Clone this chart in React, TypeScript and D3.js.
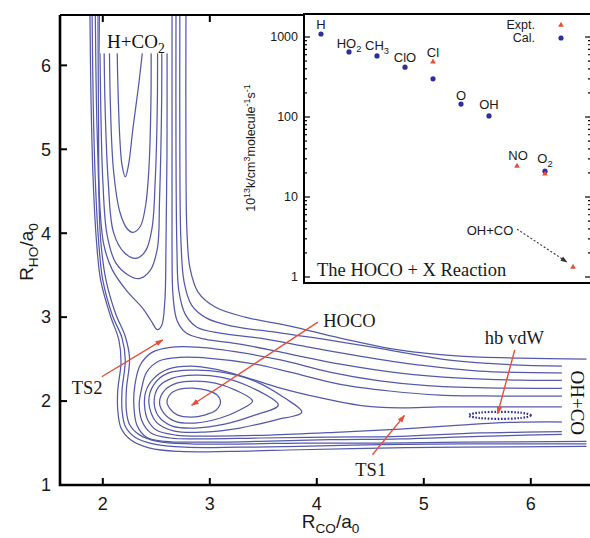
import React, { useEffect, useRef } from "react";
import * as d3 from "d3";

type Pt = [number, number];

// contours of the HOCO surface, traced as [R_CO, R_HO] in bohr
// H + CO2 valley: levels that stay open at the top
const entranceLines: Pt[][] = [
  [[2.13, 6.6], [2.14, 5.82], [2.16, 5.11], [2.18, 4.81], [2.21, 4.67], [2.24, 4.81], [2.28, 5.23], [2.34, 5.82], [2.38, 6.3], [2.39, 6.6]],
  [[2.06, 6.6], [2.07, 5.58], [2.1, 4.75], [2.16, 4.25], [2.23, 4.05], [2.28, 4.01], [2.35, 4.08], [2.4, 4.33], [2.43, 4.75], [2.45, 5.58], [2.45, 6.6]],
  [[2.01, 6.6], [2.02, 5.58], [2.05, 4.63], [2.1, 4.01], [2.2, 3.77], [2.31, 3.7], [2.4, 3.79], [2.46, 4.06], [2.49, 4.63], [2.51, 5.58], [2.51, 6.6]],
  [[1.97, 6.6], [1.98, 5.58], [2.0, 4.63], [2.04, 3.98], [2.12, 3.65], [2.24, 3.5], [2.34, 3.46], [2.44, 3.55], [2.51, 3.82], [2.53, 4.39], [2.55, 5.58], [2.55, 6.6]],
  [[1.955, 6.6], [1.96, 5.35], [1.97, 4.39], [2.01, 3.86], [2.09, 3.56], [2.22, 3.32], [2.37, 3.11], [2.45, 2.96], [2.51, 2.85], [2.55, 2.9], [2.58, 3.2], [2.59, 3.8], [2.6, 4.99], [2.6, 6.6]],
];

// repulsive wall: from the top, round the well, out along OH + CO
const wallLines: Pt[][] = [
  [[1.88, 6.6], [1.89, 5.58], [1.91, 4.63], [1.94, 3.92], [1.98, 3.44], [2.07, 3.02], [2.15, 2.73], [2.17, 2.46], [2.14, 2.13], [2.14, 1.89], [2.17, 1.68], [2.26, 1.54], [2.44, 1.44], [2.72, 1.4], [3.19, 1.4], [3.84, 1.42], [4.59, 1.44], [5.34, 1.45], [6.52, 1.46]],
  [[1.9, 6.6], [1.91, 5.58], [1.93, 4.63], [1.96, 3.92], [2.0, 3.44], [2.09, 3.02], [2.18, 2.75], [2.21, 2.49], [2.18, 2.13], [2.18, 1.89], [2.21, 1.7], [2.3, 1.57], [2.47, 1.49], [2.77, 1.45], [3.28, 1.45], [3.84, 1.46], [4.59, 1.48], [5.34, 1.49], [6.52, 1.49]],
  [[1.93, 6.6], [1.94, 5.58], [1.96, 4.63], [1.98, 3.92], [2.03, 3.44], [2.12, 3.04], [2.21, 2.77], [2.25, 2.51], [2.22, 2.13], [2.22, 1.89], [2.25, 1.72], [2.34, 1.6], [2.51, 1.52], [2.82, 1.49], [3.38, 1.49], [3.84, 1.5], [4.59, 1.5], [5.34, 1.51], [6.52, 1.52]],
];

// upper wall: down the H + CO2 valley, round the corner, out along OH + CO
const upperLines: Pt[][] = [
  [[2.777, 6.6], [2.777, 4.99], [2.786, 4.036], [2.815, 3.583], [2.89, 3.298], [3.05, 3.12], [3.33, 3.0], [3.75, 2.893], [4.22, 2.75], [4.78, 2.607], [5.34, 2.536], [5.9, 2.512], [6.52, 2.5]],
  [[2.72, 6.6], [2.72, 4.99], [2.73, 3.917], [2.76, 3.417], [2.83, 3.143], [2.97, 2.988], [3.21, 2.893], [3.61, 2.821], [4.12, 2.726], [4.68, 2.607], [5.24, 2.488], [5.9, 2.429], [6.52, 2.417]],
  [[2.684, 6.6], [2.684, 4.99], [2.693, 3.8], [2.71, 3.321], [2.77, 3.036], [2.88, 2.88], [3.095, 2.81], [3.47, 2.75], [3.94, 2.64], [4.4, 2.536], [4.96, 2.429], [5.52, 2.357], [6.52, 2.333]],
  [[2.647, 6.6], [2.647, 4.99], [2.647, 3.8], [2.656, 3.262], [2.693, 2.964], [2.78, 2.81], [2.955, 2.738], [3.28, 2.679], [3.75, 2.56], [4.22, 2.44], [4.78, 2.333], [5.34, 2.274], [5.9, 2.25], [6.52, 2.25]],
];

// levels above TS1: wrap the HOCO well and open toward OH + CO
const exitLines: Pt[][] = [
  [[6.52, 2.155], [5.71, 2.155], [5.06, 2.18], [4.59, 2.24], [4.12, 2.345], [3.66, 2.49], [3.28, 2.58], [2.91, 2.64], [2.63, 2.64], [2.46, 2.58], [2.35, 2.43], [2.3, 2.19], [2.29, 1.95], [2.32, 1.71], [2.41, 1.57], [2.58, 1.52], [2.91, 1.51], [3.47, 1.52], [4.12, 1.54], [4.78, 1.55], [5.52, 1.58], [6.52, 1.61]],
  [[6.52, 2.06], [5.71, 2.06], [5.15, 2.07], [4.68, 2.12], [4.22, 2.2], [3.75, 2.345], [3.38, 2.45], [3.0, 2.51], [2.72, 2.52], [2.53, 2.48], [2.41, 2.345], [2.36, 2.13], [2.34, 1.95], [2.37, 1.75], [2.45, 1.62], [2.63, 1.56], [2.91, 1.55], [3.47, 1.56], [4.12, 1.57], [4.78, 1.58], [5.52, 1.62], [6.52, 1.64]],
  [[6.52, 1.93], [5.71, 1.93], [5.15, 1.93], [4.78, 1.92], [4.4, 1.95], [4.03, 2.04], [3.66, 2.155], [3.33, 2.286], [3.05, 2.38], [2.82, 2.417], [2.61, 2.38], [2.47, 2.262], [2.4, 2.107], [2.39, 1.952], [2.42, 1.774], [2.5, 1.655], [2.68, 1.595], [3.0, 1.583], [3.56, 1.595], [4.22, 1.631], [4.78, 1.667], [5.34, 1.714], [5.9, 1.75], [6.52, 1.75]],
];

// closed levels inside the HOCO well
const wellLines: Pt[][] = [
  [[2.6, 1.988], [2.64, 2.095], [2.72, 2.143], [2.84, 2.155], [2.97, 2.131], [3.07, 2.071], [3.1, 1.988], [3.06, 1.893], [2.95, 1.833], [2.83, 1.81], [2.7, 1.833], [2.63, 1.905]],
  [[2.53, 1.988], [2.58, 2.131], [2.69, 2.214], [2.86, 2.238], [3.05, 2.214], [3.24, 2.131], [3.4, 2.0], [3.28, 1.893], [3.1, 1.798], [2.86, 1.738], [2.67, 1.762], [2.57, 1.857]],
  [[2.48, 1.988], [2.52, 2.167], [2.65, 2.274], [2.86, 2.31], [3.1, 2.286], [3.38, 2.167], [3.64, 1.952], [3.42, 1.833], [3.14, 1.726], [2.86, 1.679], [2.65, 1.702], [2.52, 1.821]],
  [[2.43, 1.988], [2.48, 2.202], [2.61, 2.333], [2.84, 2.369], [3.11, 2.345], [3.42, 2.238], [3.7, 2.036], [3.86, 1.869], [3.61, 1.774], [3.28, 1.679], [2.95, 1.631], [2.67, 1.643], [2.5, 1.75]],
];

const vdwWell = { center: [5.71, 1.83] as Pt, rx: 0.29, ry: 0.042 };

const rcoTicks = [2, 3, 4, 5, 6];
const rhoTicks = [1, 2, 3, 4, 5, 6];

const pesLabels = [
  { text: "HOCO", at: [4.06, 2.88] as Pt },
  { text: "TS2", at: [1.71, 2.08] as Pt },
  { text: "TS1", at: [4.36, 1.11] as Pt },
  { text: "hb vdW", at: [5.57, 2.68] as Pt },
];
const pesArrows: { from: Pt; to: Pt }[] = [
  { from: [4.01, 2.94], to: [2.83, 1.95] },
  { from: [1.99, 2.29], to: [2.56, 2.73] },
  { from: [4.52, 1.36], to: [4.82, 1.83] },
  { from: [5.85, 2.61], to: [5.69, 1.85] },
];

// inset: HOCO + X rate constants, 10^13 k / cm3 molecule-1 s-1
const partners = ["H", "HO2", "CH3", "ClO", "Cl", "O", "OH", "NO", "O2", "OH+CO"];
const partnerText: [string, string][] = [
  ["H", ""], ["HO", "2"], ["CH", "3"], ["ClO", ""], ["Cl", ""],
  ["O", ""], ["OH", ""], ["NO", ""], ["O", "2"], ["OH+CO", ""],
];
const calRates = [1090, 650, 580, 420, 300, 145, 103, null, 21, null];
const exptRates = [null, null, null, null, 490, null, null, 24.4, 19.4, 1.33];
const rateTicks = [1, 10, 100, 1000];

const BLUE_LINE = "#5559a9";
const RED = "#e5503a";
const DOT_BLUE = "#2f2f98";

const App = () => {
  const svgRef = useRef<SVGSVGElement>(null);

  useEffect(() => {
    const width = 590, height = 538;
    const left = 60, right = 595, top = 15, bottom = 485;

    const svg = d3.select(svgRef.current)
      .attr("width", width)
      .attr("height", height);
    svg.selectAll("*").remove();

    svg.append("rect").attr("width", width).attr("height", height).attr("fill", "white");

    const x = d3.scaleLinear().domain([1.6, 6.6]).range([left, right]);
    const y = d3.scaleLinear().domain([1, 6.6]).range([bottom, top]);

    const defs = svg.append("defs");
    defs.append("clipPath").attr("id", "plotArea")
      .append("rect")
      .attr("x", left).attr("y", top)
      .attr("width", right - left).attr("height", bottom - top);

    const head = (id: string, color: string, size: number) => {
      defs.append("marker")
        .attr("id", id)
        .attr("viewBox", "0 0 10 10")
        .attr("refX", 9).attr("refY", 5)
        .attr("markerWidth", size).attr("markerHeight", size)
        .attr("markerUnits", "userSpaceOnUse")
        .attr("orient", "auto")
        .append("path")
        .attr("d", "M0,1.5 L10,5 L0,8.5 Z")
        .attr("fill", color);
    };
    head("redHead", RED, 8);
    head("greyHead", "#333", 7);

    // rich text: [text, "sub" | "sup" | ""]
    const rich = (t: any, parts: [string, string][], size: number) => {
      let shift = 0;
      parts.forEach(([s, kind]) => {
        if (!s) return;
        const target = kind === "sub" ? size * 0.28 : kind === "sup" ? -size * 0.38 : 0;
        t.append("tspan")
          .attr("dy", target - shift)
          .attr("font-size", kind ? size * 0.72 : size)
          .text(s);
        shift = target;
      });
    };

    // contours
    const openLine = d3.line<Pt>().x(d => x(d[0])).y(d => y(d[1])).curve(d3.curveCatmullRom.alpha(0.5));
    const loopLine = d3.line<Pt>().x(d => x(d[0])).y(d => y(d[1])).curve(d3.curveCatmullRomClosed.alpha(0.5));

    const contours = svg.append("g")
      .attr("clip-path", "url(#plotArea)")
      .attr("fill", "none")
      .attr("stroke", BLUE_LINE)
      .attr("stroke-width", 1.25);

    [...entranceLines, ...wallLines, ...upperLines, ...exitLines].forEach(l => {
      contours.append("path").attr("d", openLine(l));
    });
    wellLines.forEach(l => {
      contours.append("path").attr("d", loopLine(l));
    });

    contours.append("ellipse")
      .attr("cx", x(vdwWell.center[0]))
      .attr("cy", y(vdwWell.center[1]))
      .attr("rx", x(vdwWell.center[0] + vdwWell.rx) - x(vdwWell.center[0]))
      .attr("ry", y(vdwWell.center[1]) - y(vdwWell.center[1] + vdwWell.ry))
      .attr("stroke", "#2d31a0")
      .attr("stroke-width", 2.2)
      .attr("stroke-dasharray", "1.6 1.6");

    // channel labels on white boxes
    svg.append("rect")
      .attr("x", x(1.974)).attr("y", top)
      .attr("width", x(2.628) - x(1.974)).attr("height", y(6.143) - top)
      .attr("fill", "white");
    const hco2 = svg.append("text")
      .attr("x", x(2.04)).attr("y", y(6.21))
      .attr("font-family", "Liberation Serif")
      .attr("fill", "#111");
    rich(hco2, [["H+CO", ""], ["2", "sub"]], 19);

    svg.append("rect")
      .attr("x", x(6.29)).attr("y", y(2.464))
      .attr("width", right - x(6.29)).attr("height", y(1.548) - y(2.464))
      .attr("fill", "white");
    svg.append("text")
      .attr("transform", `translate(${x(6.44)},${y(1.98)}) rotate(90)`)
      .attr("text-anchor", "middle")
      .attr("dy", "0.35em")
      .attr("font-family", "Liberation Serif")
      .attr("font-size", 19)
      .attr("fill", "#111")
      .text("OH+CO");

    pesLabels.forEach(l => {
      svg.append("text")
        .attr("x", x(l.at[0])).attr("y", y(l.at[1]))
        .attr("font-family", "Liberation Serif")
        .attr("font-size", 18.5)
        .attr("fill", "#1a1a1a")
        .text(l.text);
    });

    pesArrows.forEach(a => {
      svg.append("line")
        .attr("x1", x(a.from[0])).attr("y1", y(a.from[1]))
        .attr("x2", x(a.to[0])).attr("y2", y(a.to[1]))
        .attr("stroke", RED)
        .attr("stroke-width", 1.4)
        .attr("marker-end", "url(#redHead)");
    });

    // main axes
    const axis = svg.append("g").attr("stroke", "black").attr("fill", "none");
    axis.append("path")
      .attr("d", `M${left},${top} V${bottom} H${right}`)
      .attr("stroke-width", 2.6);
    axis.append("line")
      .attr("x1", left).attr("x2", right).attr("y1", top).attr("y2", top)
      .attr("stroke-width", 2.2);

    rcoTicks.forEach(t => {
      axis.append("line").attr("x1", x(t)).attr("x2", x(t)).attr("y1", bottom).attr("y2", bottom - 7).attr("stroke-width", 2);
      axis.append("line").attr("x1", x(t)).attr("x2", x(t)).attr("y1", top).attr("y2", top + 7).attr("stroke-width", 2);
      svg.append("text")
        .attr("x", x(t)).attr("y", bottom + 25)
        .attr("text-anchor", "middle")
        .attr("font-family", "Liberation Sans")
        .attr("font-size", 18)
        .attr("fill", "#1a1a1a")
        .text(t);
    });
    rhoTicks.forEach(t => {
      axis.append("line").attr("x1", left).attr("x2", left + 7).attr("y1", y(t)).attr("y2", y(t)).attr("stroke-width", 2);
      svg.append("text")
        .attr("x", left - 9).attr("y", y(t))
        .attr("dy", "0.35em")
        .attr("text-anchor", "end")
        .attr("font-family", "Liberation Sans")
        .attr("font-size", 18)
        .attr("fill", "#1a1a1a")
        .text(t);
    });

    const xLabel = svg.append("text")
      .attr("x", (left + right) / 2 + 3).attr("y", 528)
      .attr("text-anchor", "middle")
      .attr("font-family", "Liberation Sans")
      .attr("fill", "#1a1a1a");
    rich(xLabel, [["R", ""], ["CO", "sub"], ["/a", ""], ["0", "sub"]], 19);

    const yLabel = svg.append("text")
      .attr("transform", `translate(33,${(top + bottom) / 2 + 2}) rotate(-90)`)
      .attr("text-anchor", "middle")
      .attr("font-family", "Liberation Sans")
      .attr("fill", "#1a1a1a");
    rich(yLabel, [["R", ""], ["HO", "sub"], ["/a", ""], ["0", "sub"]], 19);

    // ---- inset ----
    const iLeft = 304, iRight = 591, iTop = 14, iBottom = 283;
    const ix = d3.scaleLinear().domain([0, partners.length - 1]).range([321, 573]);
    const iy = d3.scaleLog().domain([1, 1000]).range([277, 37]);

    svg.append("rect")
      .attr("x", iLeft).attr("y", iTop)
      .attr("width", iRight - iLeft).attr("height", iBottom - iTop)
      .attr("fill", "white")
      .attr("stroke", "black")
      .attr("stroke-width", 2);

    const minor: number[] = [];
    [1, 10, 100].forEach(d => d3.range(2, 10).forEach(m => minor.push(d * m)));
    const iaxis = svg.append("g").attr("stroke", "black").attr("stroke-width", 1.2);
    rateTicks.forEach(t => {
      iaxis.append("line").attr("x1", iLeft).attr("x2", iLeft + 6).attr("y1", iy(t)).attr("y2", iy(t));
      iaxis.append("line").attr("x1", iRight).attr("x2", iRight - 6).attr("y1", iy(t)).attr("y2", iy(t));
      svg.append("text")
        .attr("x", iLeft - 6).attr("y", iy(t))
        .attr("dy", "0.35em")
        .attr("text-anchor", "end")
        .attr("font-family", "Liberation Sans")
        .attr("font-size", 12.5)
        .attr("fill", "#1a1a1a")
        .text(t);
    });
    minor.forEach(t => {
      iaxis.append("line").attr("x1", iLeft).attr("x2", iLeft + 3).attr("y1", iy(t)).attr("y2", iy(t));
      iaxis.append("line").attr("x1", iRight).attr("x2", iRight - 3).attr("y1", iy(t)).attr("y2", iy(t));
    });

    const iyLabel = svg.append("text")
      .attr("transform", `translate(255,148) rotate(-90)`)
      .attr("text-anchor", "middle")
      .attr("font-family", "Liberation Sans")
      .attr("fill", "#1a1a1a");
    rich(iyLabel, [["10", ""], ["13", "sup"], ["k/cm", ""], ["3", "sup"], ["molecule", ""], ["-1", "sup"], ["s", ""], ["-1", "sup"]], 12.5);

    const tri = d3.symbol().type(d3.symbolTriangle).size(14);
    partners.forEach((p, i) => {
      const c = calRates[i], e = exptRates[i];
      if (c !== null) {
        svg.append("circle").attr("cx", ix(i)).attr("cy", iy(c)).attr("r", 2.6).attr("fill", DOT_BLUE);
      }
      if (e !== null) {
        svg.append("path").attr("d", tri()).attr("transform", `translate(${ix(i)},${iy(e)})`).attr("fill", RED);
      }
    });

    // partner names sit above the upper marker
    const labelShift: Pt[] = [[0, -5], [0, -4], [0, -6], [0, -5], [0, -5], [0, -4], [0, -7], [1, -6], [0, -8], [-83, -32]];
    partners.forEach((p, i) => {
      const vals = [calRates[i], exptRates[i]].filter(v => v !== null) as number[];
      const py = d3.min(vals.map(v => iy(v))) as number;
      const t = svg.append("text")
        .attr("x", ix(i) + labelShift[i][0]).attr("y", py + labelShift[i][1])
        .attr("text-anchor", "middle")
        .attr("font-family", "Liberation Sans")
        .attr("fill", "#1a1a1a");
      rich(t, [[partnerText[i][0], ""], [partnerText[i][1], partnerText[i][1] ? "sub" : ""]], 13);
    });

    const last = partners.length - 1;
    const ohx = ix(last), ohy = iy(exptRates[last] as number);
    svg.append("line")
      .attr("x1", ohx - 56).attr("y1", ohy - 38)
      .attr("x2", ohx - 6).attr("y2", ohy - 5)
      .attr("stroke", "#333")
      .attr("stroke-width", 1.1)
      .attr("stroke-dasharray", "2 2")
      .attr("marker-end", "url(#greyHead)");

    // legend
    const legend = [
      { name: "Expt.", y: 25 },
      { name: "Cal.", y: 38 },
    ];
    legend.forEach((l, i) => {
      svg.append("text")
        .attr("x", 535).attr("y", l.y)
        .attr("dy", "0.35em")
        .attr("text-anchor", "end")
        .attr("font-family", "Liberation Sans")
        .attr("font-size", 12.5)
        .attr("fill", "#1a1a1a")
        .text(l.name);
      if (i === 0) {
        svg.append("path").attr("d", tri()).attr("transform", `translate(561,${l.y})`).attr("fill", RED);
      } else {
        svg.append("circle").attr("cx", 561).attr("cy", l.y).attr("r", 2.6).attr("fill", DOT_BLUE);
      }
    });

    svg.append("text")
      .attr("x", 317).attr("y", 276)
      .attr("font-family", "Liberation Serif")
      .attr("font-size", 18.5)
      .attr("fill", "#1a1a1a")
      .text("The HOCO + X Reaction");
  }, []);

  return <svg ref={svgRef} style={{ position: "absolute", left: 0, top: 0 }}></svg>;
};

export default App;
